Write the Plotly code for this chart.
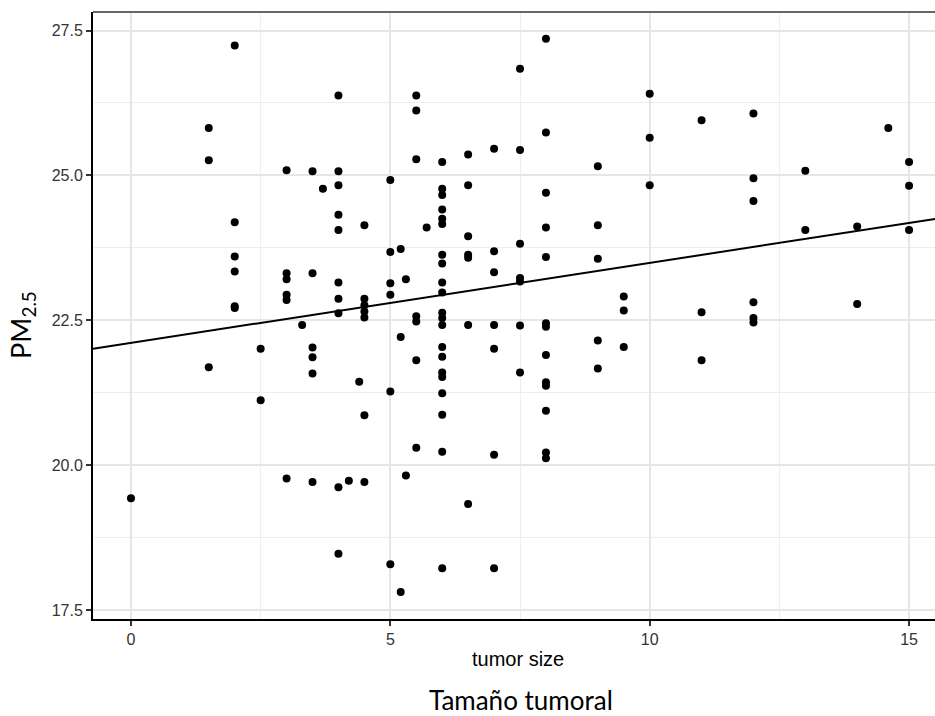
import plotly.graph_objects as go

# ---- data ----
tumor_size = [
    0,
    1.5, 1.5, 1.5,
    2, 2, 2, 2, 2, 2,
    2.5, 2.5,
    3, 3, 3, 3, 3, 3,
    3.3,
    3.5, 3.5, 3.5, 3.5, 3.5, 3.5,
    3.7,
    4, 4, 4, 4, 4, 4, 4, 4, 4, 4,
    4.2,
    4.4,
    4.5, 4.5, 4.5, 4.5, 4.5, 4.5, 4.5,
    5, 5, 5, 5, 5, 5,
    5.2, 5.2, 5.2,
    5.3, 5.3,
    5.5, 5.5, 5.5, 5.5, 5.5, 5.5, 5.5,
    5.7,
    6, 6, 6, 6, 6, 6, 6, 6, 6, 6, 6, 6, 6, 6, 6, 6, 6, 6, 6, 6, 6,
    6.5, 6.5, 6.5, 6.5, 6.5, 6.5, 6.5,
    7, 7, 7, 7, 7, 7, 7,
    7.5, 7.5, 7.5, 7.5, 7.5, 7.5, 7.5,
    8, 8, 8, 8, 8, 8, 8, 8, 8, 8, 8, 8, 8,
    9, 9, 9, 9, 9,
    9.5, 9.5, 9.5,
    10, 10, 10,
    11, 11, 11,
    12, 12, 12, 12, 12, 12,
    13, 13,
    14, 14,
    14.6,
    15, 15, 15,
]

pm25 = [
    19.43,
    25.82, 25.26, 21.69,
    27.24, 24.19, 23.60, 23.34, 22.74, 22.71,
    22.01, 21.12,
    25.09, 23.31, 23.21, 22.94, 22.85, 19.77,
    22.42,
    25.07, 23.31, 22.03, 21.86, 21.58, 19.71,
    24.77,
    26.38, 25.07, 24.83, 24.32, 24.06, 23.15, 22.87, 22.62, 19.62, 18.47,
    19.73,
    21.44,
    24.14, 22.87, 22.76, 22.65, 22.55, 20.86, 19.71,
    24.92, 23.68, 23.14, 22.94, 21.27, 18.29,
    23.73, 22.21, 17.81,
    23.21, 19.82,
    26.38, 26.12, 25.28, 22.57, 22.48, 21.81, 20.30,
    24.10,
    25.23, 24.77, 24.66, 24.41, 24.25, 24.16, 23.63, 23.48, 23.15, 22.98,
    22.63, 22.54, 22.42, 22.04, 21.87, 21.60, 21.52, 21.24, 20.87, 20.23, 18.22,
    25.36, 24.83, 23.95, 23.63, 23.58, 22.42, 19.33,
    25.46, 23.69, 23.33, 22.42, 22.01, 20.18, 18.22,
    26.84, 25.44, 23.82, 23.23, 23.17, 22.41, 21.60,
    27.36, 25.74, 24.70, 24.10, 23.59, 22.45, 22.39, 21.90, 21.43, 21.37, 20.94, 20.22, 20.12,
    25.16, 24.14, 23.56, 22.15, 21.67,
    22.91, 22.67, 22.04,
    26.41, 25.65, 24.83,
    25.95, 22.64, 21.81,
    26.07, 24.95, 24.56, 22.81, 22.54, 22.46,
    25.08, 24.06,
    24.12, 22.78,
    25.82,
    25.23, 24.82, 24.06,
]

# linear fit line as drawn in the reference (intercept, slope)
fit_intercept = 22.11
fit_slope = 0.138

x_range = [-0.732, 15.50]
y_range = [17.345, 27.82]
x_ticks = [0, 5, 10, 15]
y_ticks = [17.5, 20.0, 22.5, 25.0, 27.5]

x_title = "tumor size"
y_title = "PM<sub>2.5</sub>"
caption = "Tamaño tumoral"

fig = go.Figure()

fig.add_trace(go.Scatter(
    x=tumor_size, y=pm25, mode="markers",
    marker=dict(color="black", size=8, line=dict(width=0)),
    showlegend=False, hoverinfo="x+y",
))

fit_x = [x_range[0], x_range[1]]
fit_y = [fit_intercept + fit_slope * v for v in fit_x]
fig.add_trace(go.Scatter(
    x=fit_x, y=fit_y, mode="lines",
    line=dict(color="black", width=2),
    showlegend=False, hoverinfo="skip",
))

tick_font = dict(family="Liberation Sans, Arial, sans-serif", size=16, color="#333333")

fig.update_xaxes(
    range=x_range, tickvals=x_ticks, ticktext=[str(v) for v in x_ticks],
    showgrid=True, gridcolor="#E6E6E6", gridwidth=1.5,
    minor=dict(dtick=2.5, tick0=0, showgrid=True, gridcolor="#EEEEEE", gridwidth=1, ticks=""),
    zeroline=False, showline=True, linecolor="black", linewidth=2,
    ticks="outside", ticklen=5, tickwidth=1.5, tickcolor="#333333",
    tickfont=tick_font,
)
fig.update_yaxes(
    range=y_range, tickvals=y_ticks, tickformat=".1f",
    showgrid=True, gridcolor="#E6E6E6", gridwidth=1.5,
    minor=dict(dtick=1.25, tick0=17.5, showgrid=True, gridcolor="#EEEEEE", gridwidth=1, ticks=""),
    zeroline=False, showline=True, linecolor="black", linewidth=2,
    ticks="outside", ticklen=5, tickwidth=1.5, tickcolor="#333333",
    tickfont=tick_font,
)

# top panel border (theme_bw style)
fig.add_shape(type="line", xref="paper", yref="paper", x0=0, x1=1, y0=1, y1=1,
              line=dict(color="#666666", width=2))

fig.add_annotation(text=y_title, xref="paper", yref="paper", x=-0.084, y=0.485,
                   textangle=-90, showarrow=False, xanchor="center", yanchor="middle",
                   font=dict(family="Lato, Noto Sans, sans-serif", size=27, color="black"))
fig.add_annotation(text=x_title, xref="paper", yref="paper", x=0.505, y=-0.066,
                   showarrow=False, xanchor="center", yanchor="middle",
                   font=dict(family="Liberation Sans, Arial, sans-serif", size=20, color="black"))
fig.add_annotation(text=caption, xref="paper", yref="paper", x=0.508, y=-0.133,
                   showarrow=False, xanchor="center", yanchor="middle",
                   font=dict(family="Lato, Noto Sans, sans-serif", size=26, color="black"))

fig.update_layout(
    width=935, height=716,
    margin=dict(l=93, r=0, t=12, b=97),
    paper_bgcolor="white", plot_bgcolor="white",
    showlegend=False,
)

fig.write_html("out.html", config={"displayModeBar": False},
               post_script="document.body.style.margin='0';document.body.style.overflow='hidden';")
